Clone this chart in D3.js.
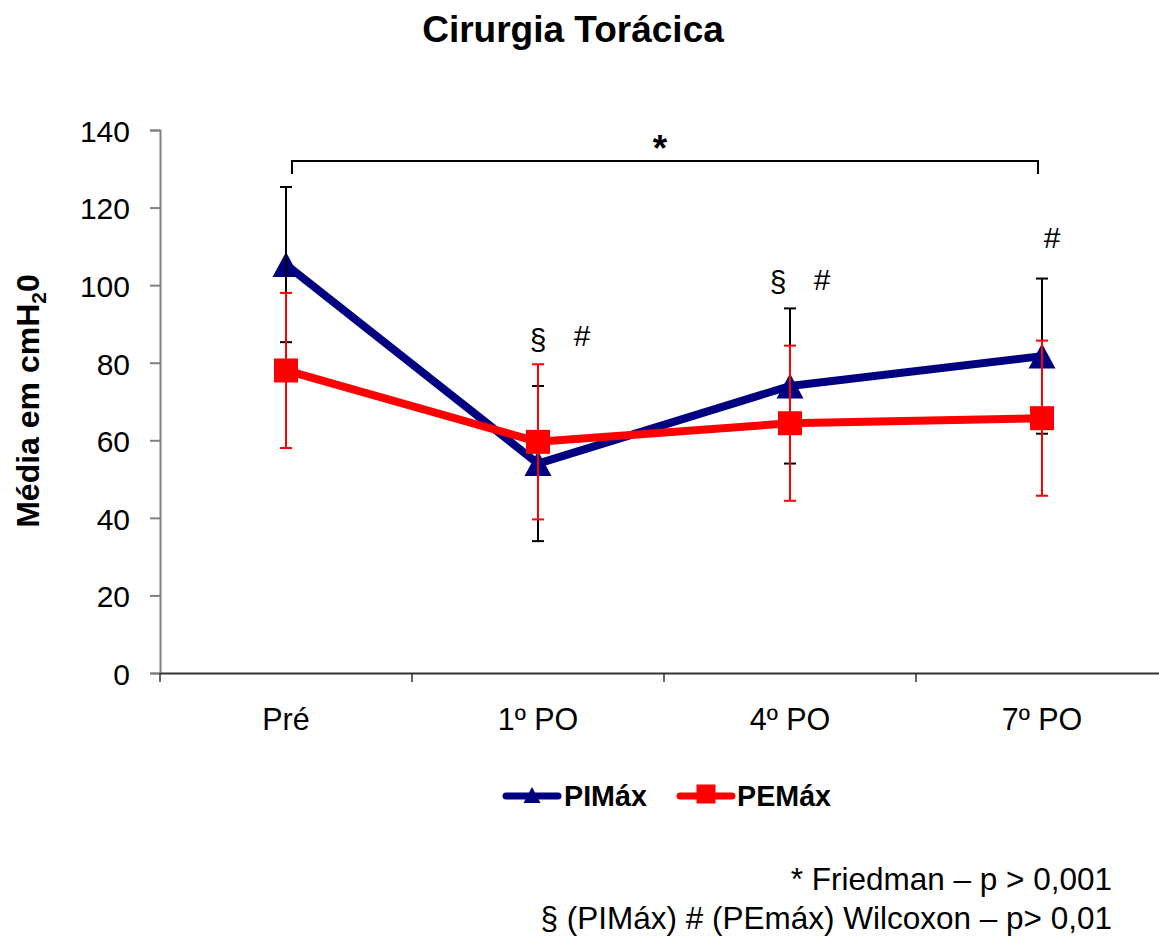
<!DOCTYPE html>
<html>
<head>
<meta charset="utf-8">
<script src="https://cdn.jsdelivr.net/npm/d3@7"></script>
<style>
  body { margin: 0; background: #fff; }
  text { font-family: "Liberation Sans", Arial, sans-serif; }
</style>
</head>
<body>
<div id="chart"></div>
<script>
// data
let categories = ['Pré', '1º PO', '4º PO', '7º PO'];
let pimaxMean = [105.3, 54, 74, 81.7];
let pimaxSd = [20, 20, 20, 20];
let pemaxMean = [78, 59.6, 64.4, 65.7];
let pemaxSd = [20, 20, 20, 20];
let yTicks = [0, 20, 40, 60, 80, 100, 120, 140];
// significance marks per category
let signs = [
    {cat: '1º PO', text: '§'}, {cat: '1º PO', text: '#'},
    {cat: '4º PO', text: '§'}, {cat: '4º PO', text: '#'},
    {cat: '7º PO', text: '#'}
];
let footnotes = ['* Friedman – p > 0,001', '§ (PIMáx) # (PEmáx) Wilcoxon – p> 0,01'];

let W = 1159, H = 939;
let blue = '#000080', red = '#ff0000';

let svg = d3.select('#chart').append('svg')
    .attr('width', W)
    .attr('height', H);

// scales
let x = d3.scaleBand().domain(categories).range([160, 1168]);
let y = d3.scaleLinear().domain([0, 140]).range([673, 130]);
let cx = function(c){ return x(c) + x.bandwidth() / 2; };

// title
svg.append('text')
    .attr('x', 573).attr('y', 42)
    .attr('text-anchor', 'middle')
    .attr('font-size', 37).attr('font-weight', 'bold')
    .text('Cirurgia Torácica');

// y axis
let yAxis = svg.append('g')
    .attr('transform', 'translate(160,0)')
    .call(d3.axisLeft(y).tickValues(yTicks).tickSize(10).tickPadding(20));
yAxis.select('.domain').attr('stroke', '#808080').attr('stroke-width', 2);
yAxis.selectAll('.tick line').attr('stroke', '#808080').attr('stroke-width', 2);
yAxis.selectAll('.tick text')
    .attr('font-size', 30)
    .attr('dy', '0.38em')
    .attr('fill', '#000')
    .attr('font-family', '"Liberation Sans", Arial, sans-serif');

// x axis
let xAxis = svg.append('g')
    .attr('transform', 'translate(0,673)')
    .call(d3.axisBottom(x).tickSize(0).tickPadding(35));
xAxis.select('.domain').attr('stroke', '#333').attr('stroke-width', 2);
xAxis.selectAll('.tick text')
    .attr('font-size', 30.5)
    .attr('fill', '#000')
    .attr('font-family', '"Liberation Sans", Arial, sans-serif');
// ticks at band edges
xAxis.selectAll('.edge')
    .data(categories)
    .enter().append('line')
    .attr('x1', function(d){ return x(d); })
    .attr('x2', function(d){ return x(d); })
    .attr('y1', 0).attr('y2', 9)
    .attr('stroke', '#333').attr('stroke-width', 1.5);

// y label
let yl = svg.append('text')
    .attr('transform', 'translate(39,401) rotate(-90)')
    .attr('text-anchor', 'middle')
    .attr('font-size', 32).attr('font-weight', 'bold');
yl.append('tspan').text('Média em cmH');
yl.append('tspan').attr('font-size', 21).attr('dy', 7).text('2');
yl.append('tspan').attr('dy', -7).text('0');

// bracket for Friedman
let bx1 = cx('Pré') + 6, bx2 = cx('7º PO') - 4;
svg.append('path')
    .attr('d', 'M' + bx1 + ',174 V161 H' + bx2 + ' V174')
    .attr('fill', 'none')
    .attr('stroke', '#000')
    .attr('stroke-width', 2);
svg.append('text')
    .attr('x', 660).attr('y', 161)
    .attr('text-anchor', 'middle')
    .attr('font-size', 37).attr('font-weight', 'bold')
    .text('*');

let pim = categories.map(function(c, i){ return {cat: c, v: pimaxMean[i], sd: pimaxSd[i]}; });
let pem = categories.map(function(c, i){ return {cat: c, v: pemaxMean[i], sd: pemaxSd[i]}; });

let line = d3.line()
    .x(function(d){ return cx(d.cat); })
    .y(function(d){ return y(d.v); });

function triangle(w, h){
    return 'M0,' + (-h/2) + ' L' + (w/2) + ',' + (h/2) + ' L' + (-w/2) + ',' + (h/2) + ' Z';
}
function square(s){
    return 'M' + (-s/2) + ',' + (-s/2) + ' h' + s + ' v' + s + ' h' + (-s) + ' Z';
}

function errorBars(data, color){
    let g = svg.append('g').attr('stroke', color).attr('stroke-width', 2);
    data.forEach(function(d){
        let xx = cx(d.cat), top = y(d.v + d.sd), bot = y(d.v - d.sd);
        g.append('line').attr('x1', xx).attr('x2', xx).attr('y1', top).attr('y2', bot);
        g.append('line').attr('x1', xx - 6).attr('x2', xx + 6).attr('y1', top).attr('y2', top);
        g.append('line').attr('x1', xx - 6).attr('x2', xx + 6).attr('y1', bot).attr('y2', bot);
    });
}

// PIMax series
svg.append('path')
    .datum(pim)
    .attr('d', line)
    .attr('fill', 'none')
    .attr('stroke', blue)
    .attr('stroke-width', 8)
    .attr('stroke-linejoin', 'round');
svg.selectAll('.tri')
    .data(pim)
    .enter().append('path')
    .attr('transform', function(d){ return 'translate(' + cx(d.cat) + ',' + y(d.v) + ')'; })
    .attr('d', triangle(27, 25))
    .attr('fill', blue);
errorBars(pim, '#000');

// PEMax series
svg.append('path')
    .datum(pem)
    .attr('d', line)
    .attr('fill', 'none')
    .attr('stroke', red)
    .attr('stroke-width', 8)
    .attr('stroke-linejoin', 'round');
svg.selectAll('.sq')
    .data(pem)
    .enter().append('path')
    .attr('transform', function(d){ return 'translate(' + cx(d.cat) + ',' + y(d.v) + ')'; })
    .attr('d', square(24))
    .attr('fill', red);
errorBars(pem, red);

// significance marks (offsets tuned by hand)
let signPos = {
    '1º PO§': [0, 350], '1º PO#': [44, 346],
    '4º PO§': [-12, 292], '4º PO#': [32, 290],
    '7º PO#': [10, 248]
};
svg.selectAll('.sign')
    .data(signs)
    .enter().append('text')
    .attr('x', function(d){ return cx(d.cat) + signPos[d.cat + d.text][0]; })
    .attr('y', function(d){ return signPos[d.cat + d.text][1]; })
    .attr('text-anchor', 'middle')
    .attr('font-size', 30)
    .text(function(d){ return d.text; });

// legend
let leg = svg.append('g');
leg.append('line').attr('x1', 506).attr('x2', 558).attr('y1', 796).attr('y2', 796)
    .attr('stroke', blue).attr('stroke-width', 7).attr('stroke-linecap', 'round');
leg.append('path').attr('transform', 'translate(532,795)').attr('d', triangle(17, 16)).attr('fill', blue);
leg.append('text').attr('x', 564).attr('y', 806)
    .attr('font-size', 28.7).attr('font-weight', 'bold').text('PIMáx');
leg.append('line').attr('x1', 680).attr('x2', 732).attr('y1', 796).attr('y2', 796)
    .attr('stroke', red).attr('stroke-width', 7).attr('stroke-linecap', 'round');
leg.append('path').attr('transform', 'translate(706,794)').attr('d', square(19)).attr('fill', red);
leg.append('text').attr('x', 737).attr('y', 806)
    .attr('font-size', 28.7).attr('font-weight', 'bold').text('PEMáx');

// footnotes
svg.selectAll('.foot')
    .data(footnotes)
    .enter().append('text')
    .attr('x', 1112)
    .attr('y', function(d, i){ return 890 + i * 39; })
    .attr('text-anchor', 'end')
    .attr('font-size', 31.5)
    .text(function(d){ return d; });
</script>
</body>
</html>
